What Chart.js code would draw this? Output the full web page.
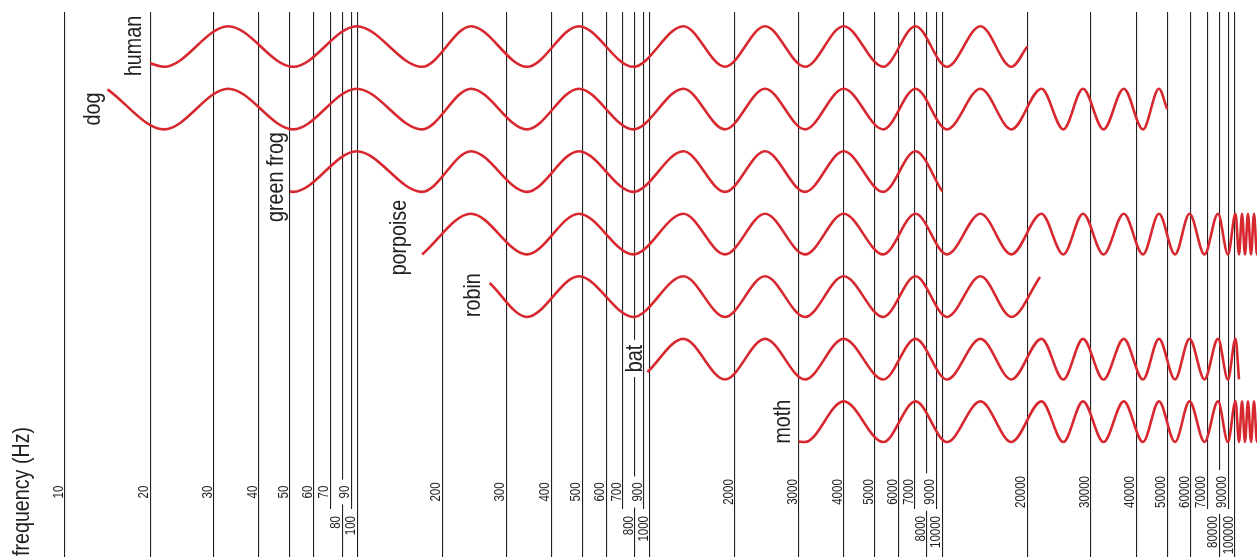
<!DOCTYPE html>
<html>
<head>
<meta charset="utf-8">
<title>Hearing ranges</title>
<script src="https://cdn.jsdelivr.net/npm/chart.js@4.4.1/dist/chart.umd.min.js"></script>
<style>
  html, body { margin: 0; padding: 0; background: #fff; }
  #wrap { width: 1257px; height: 557px; }
</style>
</head>
<body>
<div id="wrap"><canvas id="hearingChart" width="1257" height="557"></canvas></div>
<script>
const FONT = '"Liberation Sans", Arial, sans-serif';
const CONDENSE = 0.82;   // squeeze text along its length, like a narrow face
const RED = '#d7282f';
const INK = '#231f20';

// hearing range of each animal
const animals    = ['human', 'dog', 'green frog', 'porpoise', 'robin', 'bat', 'moth'];
const lowHz      = [20, 15, 50, 176, 274, 960, 3000];
const highHz     = [20000, 50000, 10000, 150000, 22000, 105200, 150000];
// where a wave starts / stops, -1 = trough, 1 = crest
const startLevel = [-0.83, 0.97, -0.98, -1, 0.67, -0.64, -0.98];
const endLevel   = [0, 0, -0.97, -1, 0.97, -1, -1];

// troughs and crests of the wave, same for every row
const troughHz = [22.2, 51.4, 175.9, 346, 789, 1884, 3142, 5360, 10560, 18140, 25650, 32770,
                  42230, 53310, 68230, 89450, 105200, 112200, 119300, 126300];
const crestHz  = [33.2, 98.9, 244.7, 489, 1394, 2473, 4000, 7040, 14500, 22230, 28740, 37270,
                  47390, 59370, 78830, 101060, 108700, 115700, 122800, 129800];

// axis
const tickHz = [10, 20, 30, 40, 50, 60, 70, 80, 90,
                100, 200, 300, 400, 500, 600, 700, 800, 900,
                1000, 2000, 3000, 4000, 5000, 6000, 7000, 8000, 9000,
                10000, 20000, 30000, 40000, 50000, 60000, 70000, 80000, 90000, 100000];
const tickLabels = tickHz.map(v => String(v));
const lowerTicks = [80, 100, 800, 1000, 8000, 10000, 80000, 100000];

// the axis is not a true log axis: spacing of 1..10 inside one decade
const stepFraction = [0, 0.291, 0.509, 0.663, 0.769, 0.851, 0.907, 0.948, 0.979, 1];

function warp(hz) {
    const k = Math.floor(Math.log10(hz) + 1e-9);
    const d = hz / Math.pow(10, k);
    const i = Math.min(8, Math.max(0, Math.floor(d) - 1));
    const t = d - (i + 1);
    return k + stepFraction[i] + t * (stepFraction[i + 1] - stepFraction[i]);
}

class HearingScale extends Chart.LogarithmicScale {
    getPixelForValue(value) {
        const lo = warp(this.min);
        const hi = warp(this.max);
        return this.getPixelForDecimal((warp(value) - lo) / (hi - lo));
    }
}
HearingScale.id = 'hearing';
HearingScale.defaults = Chart.LogarithmicScale.defaults;
Chart.register(HearingScale);

// label placement (px): gap left of wave start, vertical shift
const labelGap   = [9, 8, 7, 16, 9.5, 5.4, 8.6];
const labelShift = [-0.5, 0, 5.5, 3.5, -1.5, -0.7, 0];

function drawUp(ctx, text, x, y, align, font, pad) {
    ctx.save();
    ctx.font = font;
    ctx.translate(x, y);
    ctx.rotate(-Math.PI / 2);
    ctx.scale(CONDENSE, 1);
    ctx.textAlign = align;
    ctx.textBaseline = 'alphabetic';
    const m = ctx.measureText(text);
    if (pad) {
        const w = m.width;
        const x0 = align === 'center' ? -w / 2 : (align === 'right' ? -w : 0);
        ctx.fillStyle = '#fff';
        ctx.fillRect(x0 - pad[0] / CONDENSE, -m.actualBoundingBoxAscent - 1,
                     w + (pad[0] + pad[1]) / CONDENSE,
                     m.actualBoundingBoxAscent + m.actualBoundingBoxDescent + 1.5);
    }
    ctx.fillStyle = INK;
    ctx.fillText(text, 0, 0);
    ctx.restore();
}

const hearingLabels = {
    id: 'hearingLabels',
    beforeDatasetsDraw(chart) {
        const ctx = chart.ctx;
        const xs = chart.scales.x;
        const ys = chart.scales.y;

        tickHz.forEach((hz, i) => {
            const px = xs.getPixelForValue(hz) - 2;
            if (lowerTicks.includes(hz)) {
                drawUp(ctx, tickLabels[i], px, 516, 'right', '14px ' + FONT, [45, 7]);
            } else {
                drawUp(ctx, tickLabels[i], px, 492, 'center', '14px ' + FONT, [6, 6]);
            }
        });

        animals.forEach((name, i) => {
            const px = xs.getPixelForValue(lowHz[i]) - labelGap[i];
            const py = ys.getPixelForValue(i) + labelShift[i];
            drawUp(ctx, name, px, py, 'center', '24px ' + FONT, [5, 5]);
        });

        drawUp(ctx, 'frequency (Hz)', 29, 556, 'left', '24px ' + FONT, null);
    }
};

const rowAmp = 0.325;
const extremes = troughHz.map(v => [v, -1]).concat(crestHz.map(v => [v, 1]))
    .sort((a, b) => a[0] - b[0]);

const datasets = animals.map((name, i) => {
    const pts = [{ x: lowHz[i], y: i - startLevel[i] * rowAmp }];
    extremes.forEach(([hz, lvl]) => {
        if (hz > lowHz[i] && hz < highHz[i]) pts.push({ x: hz, y: i - lvl * rowAmp });
    });
    pts.push({ x: highHz[i], y: i - endLevel[i] * rowAmp });
    return {
        label: name,
        data: pts,
        borderColor: RED,
        borderWidth: 2.6,
        borderJoinStyle: 'round',
        pointRadius: 0,
        fill: false,
        cubicInterpolationMode: 'monotone'
    };
});

const ctx = document.getElementById('hearingChart').getContext('2d');
new Chart(ctx, {
    type: 'line',
    data: { datasets },
    options: {
        responsive: false,
        devicePixelRatio: 1,
        animation: false,
        events: [],
        layout: { padding: { top: 12, left: 0, right: 0, bottom: 0 } },
        plugins: {
            legend: { display: false },
            tooltip: { enabled: false }
        },
        scales: {
            x: {
                type: 'hearing',
                min: 5.106,
                max: 126320,
                afterBuildTicks: s => { s.ticks = tickHz.map(v => ({ value: v })); },
                afterFit: s => { s.height = 0; },
                ticks: { display: false },
                grid: { color: INK, lineWidth: 1.1, drawTicks: false },
                border: { display: false }
            },
            y: {
                type: 'linear',
                display: false,
                reverse: true,
                min: -0.5517,
                max: 8.164
            }
        }
    },
    plugins: [hearingLabels]
});
</script>
</body>
</html>
